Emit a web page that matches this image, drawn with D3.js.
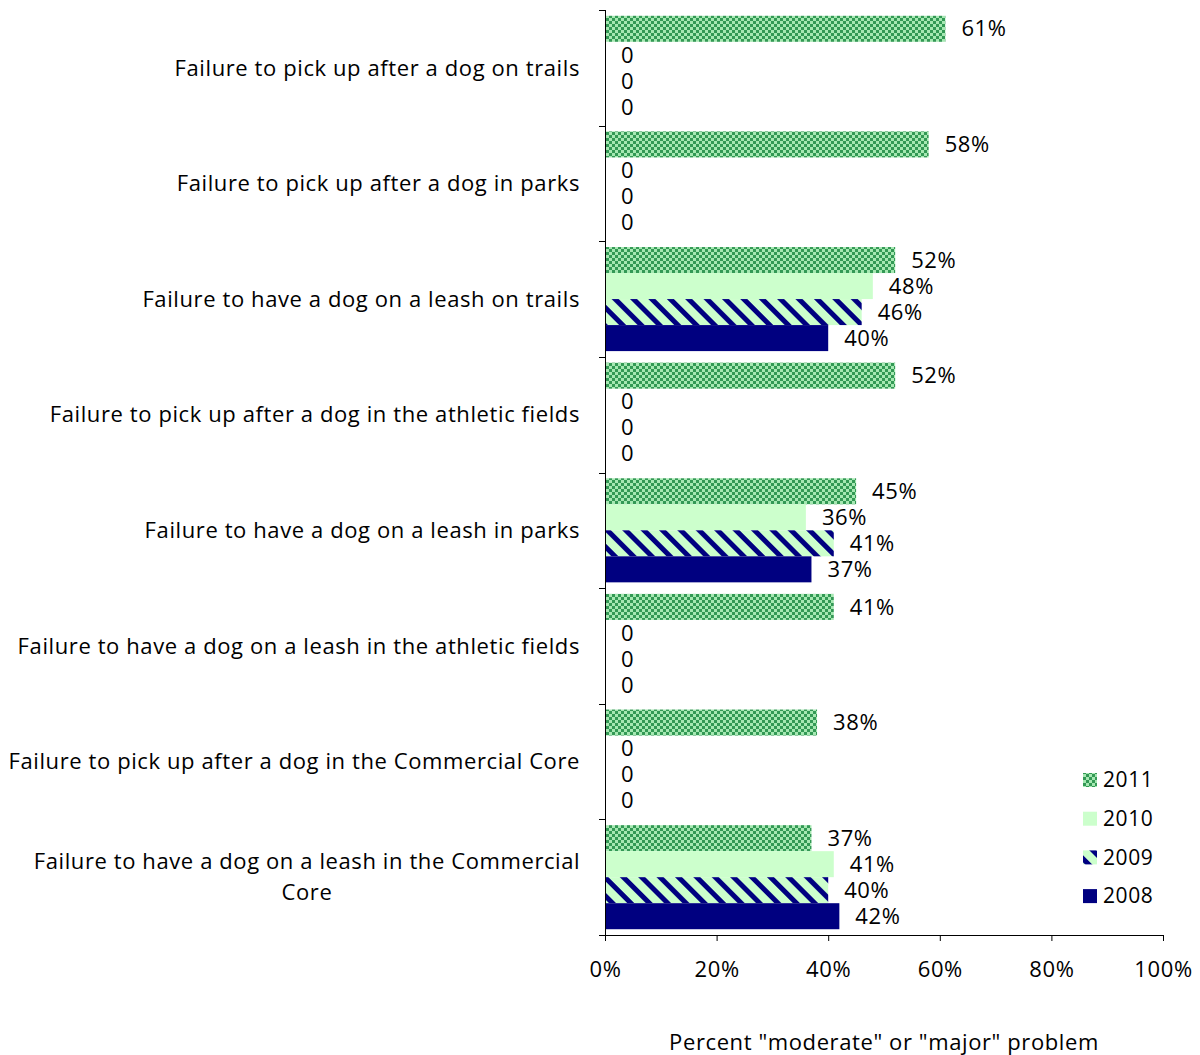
<!DOCTYPE html>
<html>
<head>
<meta charset="utf-8">
<script src="https://cdn.jsdelivr.net/npm/d3@7"></script>
<style>
body { margin: 0; background: #fff; }
text { font-family: "Open Sans", Lato, sans-serif; fill: #000; letter-spacing: 0.6px; }
.eg-axis path, .eg-axis line { stroke: #000; }
</style>
</head>
<body>
<svg id="eg-svg" width="1200" height="1055"></svg>
<script>
var categories = [
    ["Failure to pick up after a dog on trails"],
    ["Failure to pick up after a dog in parks"],
    ["Failure to have a dog on a leash on trails"],
    ["Failure to pick up after a dog in the athletic fields"],
    ["Failure to have a dog on a leash in parks"],
    ["Failure to have a dog on a leash in the athletic fields"],
    ["Failure to pick up after a dog in the Commercial Core"],
    ["Failure to have a dog on a leash in the Commercial", "Core"]
];
var years = ["2011", "2010", "2009", "2008"];
var values2011 = [61, 58, 52, 52, 45, 41, 38, 37];
var values2010 = [0, 0, 48, 0, 36, 0, 0, 41];
var values2009 = [0, 0, 46, 0, 41, 0, 0, 40];
var values2008 = [0, 0, 40, 0, 37, 0, 0, 42];
var xTicks = [0, 20, 40, 60, 80, 100];

var series = [values2011, values2010, values2009, values2008];

var svg = d3.select("#eg-svg");
var defs = svg.append("defs");

// 2011: small green checkerboard
var p1 = defs.append("pattern")
    .attr("id", "pat2011")
    .attr("width", 6).attr("height", 6)
    .attr("patternUnits", "userSpaceOnUse");
p1.append("rect").attr("width", 6).attr("height", 6).attr("fill", "#a6e8b2");
p1.append("rect").attr("width", 3).attr("height", 3).attr("fill", "#339955");
p1.append("rect").attr("x", 3).attr("y", 3).attr("width", 3).attr("height", 3).attr("fill", "#339955");

// 2009: navy wide downward diagonal on light green
var p3 = defs.append("pattern")
    .attr("id", "pat2009")
    .attr("width", 13).attr("height", 13)
    .attr("patternUnits", "userSpaceOnUse")
    .attr("patternTransform", "rotate(-45)");
p3.append("rect").attr("width", 13).attr("height", 13).attr("fill", "#ccffcc");
p3.append("rect").attr("width", 5).attr("height", 13).attr("fill", "#000080");

var fills = {
    "2011": "url(#pat2011)",
    "2010": "#ccffcc",
    "2009": "url(#pat2009)",
    "2008": "#000080"
};

var plotLeft = 605, plotRight = 1163, plotTop = 10, plotBottom = 935;
var fontSize = 22;

var xScale = d3.scaleLinear()
    .domain([0, 100])
    .range([plotLeft, plotRight]);
var yScale = d3.scaleBand()
    .domain(d3.range(categories.length))
    .range([plotTop, plotBottom])
    .paddingInner(0.1)
    .paddingOuter(0.05);
var subScale = d3.scaleBand()
    .domain(years)
    .range([0, yScale.bandwidth()]);

// bars
series.forEach(function(vals, s) {
    var year = years[s];
    var g = svg.append("g").attr("class", "eg-bars");
    g.selectAll("rect")
        .data(vals)
        .enter().append("rect")
        .attr("x", xScale(0))
        .attr("y", function(d, i) { return yScale(i) + subScale(year); })
        .attr("width", function(d) { return xScale(d) - xScale(0); })
        .attr("height", subScale.bandwidth())
        .attr("fill", fills[year]);
    g.selectAll("text")
        .data(vals)
        .enter().append("text")
        .attr("x", function(d) { return xScale(d) + 16; })
        .attr("y", function(d, i) { return yScale(i) + subScale(year) + subScale.bandwidth() / 2; })
        .attr("dy", "0.35em")
        .attr("font-size", fontSize)
        .text(function(d) { return d == 0 ? "0" : d + "%"; });
});

// x axis
var xAxis = d3.axisBottom(xScale)
    .tickValues(xTicks)
    .tickSize(6)
    .tickPadding(20)
    .tickFormat(function(d) { return d + "%"; });
svg.append("g")
    .attr("class", "eg-axis")
    .attr("transform", "translate(0," + plotBottom + ")")
    .call(xAxis)
    .call(g => g.select(".domain").attr("d", "M" + plotLeft + ",0.5H" + plotRight))
    .selectAll("text")
    .attr("font-size", fontSize)
    .style("font-family", "'Open Sans', sans-serif");

// y axis line and ticks at band boundaries
var yAxisG = svg.append("g").attr("class", "eg-axis");
yAxisG.append("line")
    .attr("x1", plotLeft + 0.5).attr("x2", plotLeft + 0.5)
    .attr("y1", plotTop).attr("y2", plotBottom)
    .attr("stroke", "#000");
d3.range(categories.length + 1).forEach(function(i) {
    var yy = plotTop + i * yScale.step();
    yAxisG.append("line")
        .attr("x1", plotLeft - 6).attr("x2", plotLeft)
        .attr("y1", Math.round(yy) + 0.5).attr("y2", Math.round(yy) + 0.5)
        .attr("stroke", "#000");
});

// category labels
categories.forEach(function(lines, i) {
    var cy = yScale(i) + yScale.bandwidth() / 2;
    var t = svg.append("text")
        .attr("font-size", fontSize)
        .attr("text-anchor", lines.length > 1 ? "middle" : "end");
    var lh = 31;
    var startY = cy - (lines.length - 1) * lh / 2;
    var xPos = lines.length > 1 ? 307 : 580;
    lines.forEach(function(line, j) {
        t.append("tspan")
            .attr("x", xPos)
            .attr("y", startY + j * lh)
            .attr("dy", "0.35em")
            .text(line);
    });
});

// axis title
svg.append("text")
    .attr("x", (plotLeft + plotRight) / 2)
    .attr("y", 1042)
    .attr("dy", "0.35em")
    .attr("text-anchor", "middle")
    .attr("font-size", fontSize)
    .text("Percent \"moderate\" or \"major\" problem");

// legend
var legend = svg.append("g").attr("class", "eg-legend");
years.forEach(function(year, i) {
    var ly = 780 + i * 38.7;
    legend.append("rect")
        .attr("x", 1083).attr("y", ly - 7)
        .attr("width", 14).attr("height", 14)
        .attr("fill", fills[year]);
    legend.append("text")
        .attr("x", 1103).attr("y", ly)
        .attr("dy", "0.35em")
        .attr("font-size", 21)
        .text(year);
});
</script>
</body>
</html>
